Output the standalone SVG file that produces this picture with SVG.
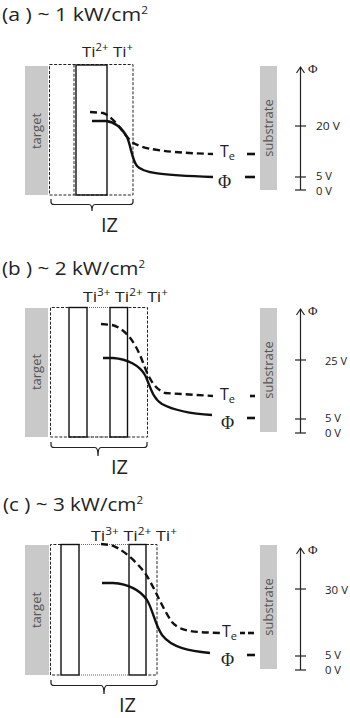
<svg xmlns="http://www.w3.org/2000/svg" width="350" height="718" viewBox="0 0 350 718">
<style>
.bg{fill:#fff}
.plate{fill:#c9c9c9}
.plbl{font-family:"Open Sans","DejaVu Sans",sans-serif;font-size:13px;fill:#555}
.title{font-family:"Open Sans","DejaVu Sans",sans-serif;font-size:18px;fill:#222}
.ti{font-family:"Open Sans","DejaVu Sans",sans-serif;font-size:15px;fill:#222}
.sup{font-size:10px}
.iz{font-family:"Open Sans","DejaVu Sans",sans-serif;font-size:20px;fill:#222}
.ax{font-family:"Open Sans","DejaVu Sans",sans-serif;font-size:11.5px;fill:#222}
.te{font-family:"Open Sans","DejaVu Sans",sans-serif;font-size:16px;fill:#222}
.phi{font-family:"Liberation Serif","DejaVu Serif",serif;font-size:18px;fill:#222}
.axphi{font-family:"Liberation Serif","DejaVu Serif",serif;font-size:13px;fill:#222}
.dash{fill:none;stroke:#222;stroke-width:1;stroke-dasharray:3 1.6}
.dot{fill:none;stroke:#444;stroke-width:0.8;stroke-dasharray:1 1}
.solid{fill:none;stroke:#111;stroke-width:1.4}
.line{fill:none;stroke:#222;stroke-width:1.2}
.tecurve{fill:none;stroke:#111;stroke-width:2.4;stroke-dasharray:7 4}
.phicurve{fill:none;stroke:#111;stroke-width:2.4}
.mark{fill:none;stroke:#111;stroke-width:2.6}
</style>
<rect class="bg" x="0" y="0" width="350" height="718"/>

<!-- Panel A -->
<g id="panel-a">
  <text class="title" x="2" y="21" textLength="146" lengthAdjust="spacingAndGlyphs">(a )  ~ 1 kW/cm<tspan class="sup" dy="-7" font-size="12">2</tspan></text>
  <g id="a-target"><rect class="plate" x="25" y="66" width="23" height="129"/><text class="plbl" transform="translate(41,131) rotate(-90)" text-anchor="middle">target</text></g>
  <g id="a-zone">
    <rect class="dash" x="49.5" y="64.5" width="83.5" height="130.5"/>
    <line class="dash" x1="74" y1="64.5" x2="74" y2="195"/>
    <rect class="solid" x="76" y="65" width="31" height="130"/>
    <text class="ti" x="82" y="57" textLength="51" lengthAdjust="spacingAndGlyphs">Ti<tspan class="sup" dy="-6">2+</tspan><tspan dy="6"> Ti</tspan><tspan class="sup" dy="-6">+</tspan></text>
  </g>
  <g id="a-curves">
    <path class="tecurve" d="M90,112 L103,113 C112,116 120,128 128,138 C135,147 150,152 213,154"/>
    <path class="phicurve" d="M92,121 L106,121 C115,122 122,128 127,137 C131,146 132,160 137,166 C143,173 160,175 213,177"/>
    <text class="te" x="220" y="157">T<tspan font-size="11" dy="3">e</tspan></text>
    <line class="mark" x1="247" y1="154" x2="255" y2="154"/>
    <text class="phi" x="218" y="188">Φ</text>
    <line class="mark" x1="245" y1="177" x2="255" y2="177"/>
  </g>
  <g id="a-substrate"><rect class="plate" x="260" y="66" width="17" height="124"/><text class="plbl" transform="translate(273,128) rotate(-90)" text-anchor="middle">substrate</text></g>
  <g id="a-axis">
    <line class="line" x1="300.5" y1="67" x2="300.5" y2="190"/>
    <path class="line" d="M296.5,73 L300.5,67 L304.5,73"/>
    <line class="line" x1="295" y1="126" x2="306" y2="126"/>
    <line class="line" x1="295" y1="177" x2="306" y2="177"/>
    <line class="line" x1="295" y1="190" x2="306" y2="190"/>
    <text class="axphi" x="308" y="73">Φ</text>
    <text class="ax" x="316" y="130" textLength="24" lengthAdjust="spacingAndGlyphs">20 V</text>
    <text class="ax" x="316" y="180" textLength="16" lengthAdjust="spacingAndGlyphs">5 V</text>
    <text class="ax" x="316" y="195" textLength="16" lengthAdjust="spacingAndGlyphs">0 V</text>
  </g>
  <g id="a-iz">
    <path class="line" d="M51,199 V202 Q51,204.5 54,204.5 H89 Q92,204.5 92,211 Q92,204.5 95,204.5 H130 Q133,204.5 133,202 V199"/>
    <text class="iz" x="101" y="232">IZ</text>
  </g>
</g>

<!-- Panel B -->
<g id="panel-b">
  <text class="title" x="2" y="275" textLength="143" lengthAdjust="spacingAndGlyphs">(b ) ~ 2 kW/cm<tspan class="sup" dy="-7" font-size="12">2</tspan></text>
  <g id="b-target"><rect class="plate" x="25" y="308" width="23" height="129"/><text class="plbl" transform="translate(41,372) rotate(-90)" text-anchor="middle">target</text></g>
  <g id="b-zone">
    <path class="dash" d="M110,307.5 H147.5 V437 H87 M87,307.5 H50.5 V437 H87"/>
    <path class="dot" d="M87,307.5 H110 M87,437 H110"/>
    <rect class="solid" x="69" y="307.5" width="18" height="129.5"/>
    <rect class="solid" x="110" y="307.5" width="17.5" height="129.5"/>
    <text class="ti" x="83" y="302" textLength="85" lengthAdjust="spacingAndGlyphs">Ti<tspan class="sup" dy="-6">3+</tspan><tspan dy="6"> Ti</tspan><tspan class="sup" dy="-6">2+</tspan><tspan dy="6"> Ti</tspan><tspan class="sup" dy="-6">+</tspan></text>
  </g>
  <g id="b-curves">
    <path class="tecurve" d="M101,324 L112,325 C125,328 135,342 142,360 C147,373 152,388 165,393 L213,396"/>
    <path class="phicurve" d="M103,358 L113,358 C128,359 140,366 145,375 C150,385 152,398 162,404 C175,411 195,414 212,415"/>
    <text class="te" x="220" y="400">T<tspan font-size="11" dy="3">e</tspan></text>
    <line class="mark" x1="250" y1="396" x2="255" y2="396"/>
    <text class="phi" x="221" y="429">Φ</text>
    <line class="mark" x1="247" y1="418" x2="255" y2="418"/>
  </g>
  <g id="b-substrate"><rect class="plate" x="260" y="308" width="17" height="124"/><text class="plbl" transform="translate(273,370) rotate(-90)" text-anchor="middle">substrate</text></g>
  <g id="b-axis">
    <line class="line" x1="300.5" y1="309" x2="300.5" y2="433"/>
    <path class="line" d="M296.5,315 L300.5,309 L304.5,315"/>
    <line class="line" x1="295" y1="360" x2="306" y2="360"/>
    <line class="line" x1="295" y1="419" x2="306" y2="419"/>
    <line class="line" x1="295" y1="433" x2="306" y2="433"/>
    <text class="axphi" x="308" y="315">Φ</text>
    <text class="ax" x="325" y="365" textLength="22" lengthAdjust="spacingAndGlyphs">25 V</text>
    <text class="ax" x="325" y="422" textLength="16" lengthAdjust="spacingAndGlyphs">5 V</text>
    <text class="ax" x="325" y="437" textLength="16" lengthAdjust="spacingAndGlyphs">0 V</text>
  </g>
  <g id="b-iz">
    <path class="line" d="M51,442 V445 Q51,447.5 54,447.5 H95 Q98,447.5 98,456 Q98,447.5 101,447.5 H144 Q147,447.5 147,445 V442"/>
    <text class="iz" x="111" y="474">IZ</text>
  </g>
</g>

<!-- Panel C -->
<g id="panel-c">
  <text class="title" x="3" y="511" textLength="140" lengthAdjust="spacingAndGlyphs">(c ) ~ 3 kW/cm<tspan class="sup" dy="-7" font-size="12">2</tspan></text>
  <g id="c-target"><rect class="plate" x="25" y="545" width="24" height="130"/><text class="plbl" transform="translate(41,610) rotate(-90)" text-anchor="middle">target</text></g>
  <g id="c-zone">
    <path class="dash" d="M146,544.5 H157 V675 H146 M61,544.5 H50.5 V675 H61"/>
    <path class="dot" d="M79,544.5 H129 M79,675 H129"/>
    <rect class="solid" x="61" y="544.5" width="18" height="130.5"/>
    <rect class="solid" x="129" y="544.5" width="17" height="130.5"/>
    <text class="ti" x="91" y="541" textLength="86" lengthAdjust="spacingAndGlyphs">Ti<tspan class="sup" dy="-6">3+</tspan><tspan dy="6"> Ti</tspan><tspan class="sup" dy="-6">2+</tspan><tspan dy="6"> Ti</tspan><tspan class="sup" dy="-6">+</tspan></text>
  </g>
  <g id="c-curves">
    <path class="tecurve" d="M101,544 L110,545 C120,547 135,560 145,573 C155,588 162,608 172,622 C180,632 195,632 220,633"/>
    <path class="phicurve" d="M102,583 L113,583 C128,584 140,590 147,600 C153,610 155,625 162,635 C172,648 190,651 210,653"/>
    <text class="te" x="222" y="637">T<tspan font-size="11" dy="3">e</tspan></text>
    <line class="mark" x1="240" y1="633" x2="245" y2="633" stroke-width="2"/>
    <line class="mark" x1="248" y1="633" x2="254" y2="633"/>
    <text class="phi" x="221" y="666">Φ</text>
    <line class="mark" x1="247" y1="655" x2="255" y2="655"/>
  </g>
  <g id="c-substrate"><rect class="plate" x="260" y="545" width="17" height="124"/><text class="plbl" transform="translate(273,607) rotate(-90)" text-anchor="middle">substrate</text></g>
  <g id="c-axis">
    <line class="line" x1="300.5" y1="548" x2="300.5" y2="670"/>
    <path class="line" d="M296.5,554 L300.5,548 L304.5,554"/>
    <line class="line" x1="295" y1="589" x2="306" y2="589"/>
    <line class="line" x1="295" y1="656" x2="306" y2="656"/>
    <line class="line" x1="295" y1="670" x2="306" y2="670"/>
    <text class="axphi" x="308" y="554">Φ</text>
    <text class="ax" x="325" y="594" textLength="23" lengthAdjust="spacingAndGlyphs">30 V</text>
    <text class="ax" x="325" y="659" textLength="16" lengthAdjust="spacingAndGlyphs">5 V</text>
    <text class="ax" x="325" y="674" textLength="16" lengthAdjust="spacingAndGlyphs">0 V</text>
  </g>
  <g id="c-iz">
    <path class="line" d="M51,680 V683 Q51,685.5 54,685.5 H101 Q104,685.5 104,694 Q104,685.5 107,685.5 H154 Q157,685.5 157,683 V680"/>
    <text class="iz" x="119" y="712">IZ</text>
  </g>
</g>
</svg>
